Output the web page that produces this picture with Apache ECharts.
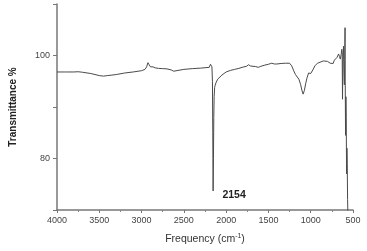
<!DOCTYPE html>
<html>
<head>
<meta charset="utf-8">
<script src="https://cdn.jsdelivr.net/npm/echarts@6/dist/echarts.min.js"></script>
<style>html,body{margin:0;padding:0;background:#fff}#c{width:367px;height:251px}</style>
</head>
<body>
<div id="c"></div>
<script>
var frequency = [4000,3900,3800,3750,3700,3600,3500,3450,3400,3300,3200,3100,3000,2960,2940,2925,2910,2895,2880,2865,2855,2840,2800,2750,2700,2650,2620,2600,2570,2500,2400,2300,2200,2185,2175,2168,2162,2158,2154,2150,2146,2142,2136,2130,2120,2100,2050,2000,1950,1900,1850,1800,1760,1735,1710,1650,1620,1590,1550,1500,1460,1430,1400,1350,1300,1250,1225,1200,1180,1160,1140,1120,1105,1090,1075,1060,1045,1025,1010,1000,990,975,950,920,900,850,800,770,750,735,720,690,670,660,650,640,632,628,624,620,612,606,602,598,596,594,592,588,584,580,576,572,568,564,560];
var transmittance = [96.8,96.8,96.8,96.85,96.75,96.5,96.1,96.0,96.1,96.3,96.6,96.8,97.05,97.3,97.8,98.6,98.2,97.8,97.6,97.8,98.1,97.6,97.5,97.45,97.4,97.2,96.95,96.9,97.1,97.3,97.45,97.55,97.7,98.3,98.4,97.8,95,85,73.7,80,88,92,93.8,94.2,94.7,95.4,96.2,96.8,97.1,97.3,97.5,97.75,97.9,98.2,97.95,97.85,97.7,97.9,98.1,98.3,98.5,98.35,98.35,98.45,98.5,98.5,98.0,97.0,96.3,96.0,95.4,94.4,93.3,92.5,93.2,94.5,95.6,96.6,96.8,96.5,96.3,97.2,98.0,98.5,98.8,98.95,98.85,98.5,98.15,98.45,99.1,99.6,100.3,99.8,99.3,100.2,101.2,100.5,91.5,99,101.8,96,94.3,99,102.5,105.4,95,84.5,92,88,77,82,79,72,69];
var xTicks = [4000,3500,3000,2500,2000,1500,1000,500];
var yLabels = [80,100];
var peakLabel = {freq: 2154, value: 73.7, text: '2154'};

var data = frequency.map(function(f,i){return [f, transmittance[i]];});
var chart = echarts.init(document.getElementById('c'));
chart.setOption({
  animation: false,
  grid: {left: 56, right: 14, top: 4, bottom: 41},
  xAxis: {
    type: 'value', inverse: true, min: 500, max: 4000, interval: 500,
    name: '{a|Frequency (cm}{s|-1}{a|)}', nameLocation: 'middle', nameGap: 23,
    nameTextStyle: {rich: {a: {fontSize: 10.5, color: '#333', fontFamily: 'Liberation Sans'}, s: {fontSize: 7, color: '#333', verticalAlign: 'top', padding: [0,0,6,0], fontFamily: 'Liberation Sans'}}},
    axisLine: {lineStyle: {color: '#777', width: 1.5}},
    axisTick: {length: 3, lineStyle: {color: '#777'}},
    minorTick: {show: true, splitNumber: 2, length: 2, lineStyle: {color: '#888'}},
    axisLabel: {fontSize: 9, color: '#444', margin: 6, fontFamily: 'Liberation Sans',
      formatter: function(v){return xTicks.indexOf(v) >= 0 ? String(v) : '';}},
    splitLine: {show: false}
  },
  yAxis: {
    type: 'value', min: 70, max: 110, interval: 10,
    name: 'Transmittance %', nameLocation: 'middle', nameGap: 39,
    nameTextStyle: {fontSize: 10, color: '#222', fontWeight: 'bold', fontFamily: 'Liberation Sans'},
    axisLine: {show: true, lineStyle: {color: '#777', width: 1.5}},
    axisTick: {show: true, length: 4, lineStyle: {color: '#777'}},
    axisLabel: {fontSize: 9, color: '#444', margin: 7, fontFamily: 'Liberation Sans',
      formatter: function(v){return yLabels.indexOf(v) >= 0 ? String(v) : '';}},
    splitLine: {show: false}
  },
  series: [{
    type: 'line', data: data, symbol: 'none', clip: true,
    lineStyle: {color: '#4a4a4a', width: 1},
    markPoint: {
      symbol: 'circle', symbolSize: 0,
      data: [{coord: [peakLabel.freq, peakLabel.value], value: peakLabel.text}],
      label: {show: true, formatter: peakLabel.text, color: '#222', fontSize: 10.5, fontWeight: 'bold',
        fontFamily: 'Liberation Sans', offset: [21, 4]}
    }
  }]
});
</script>
</body>
</html>
